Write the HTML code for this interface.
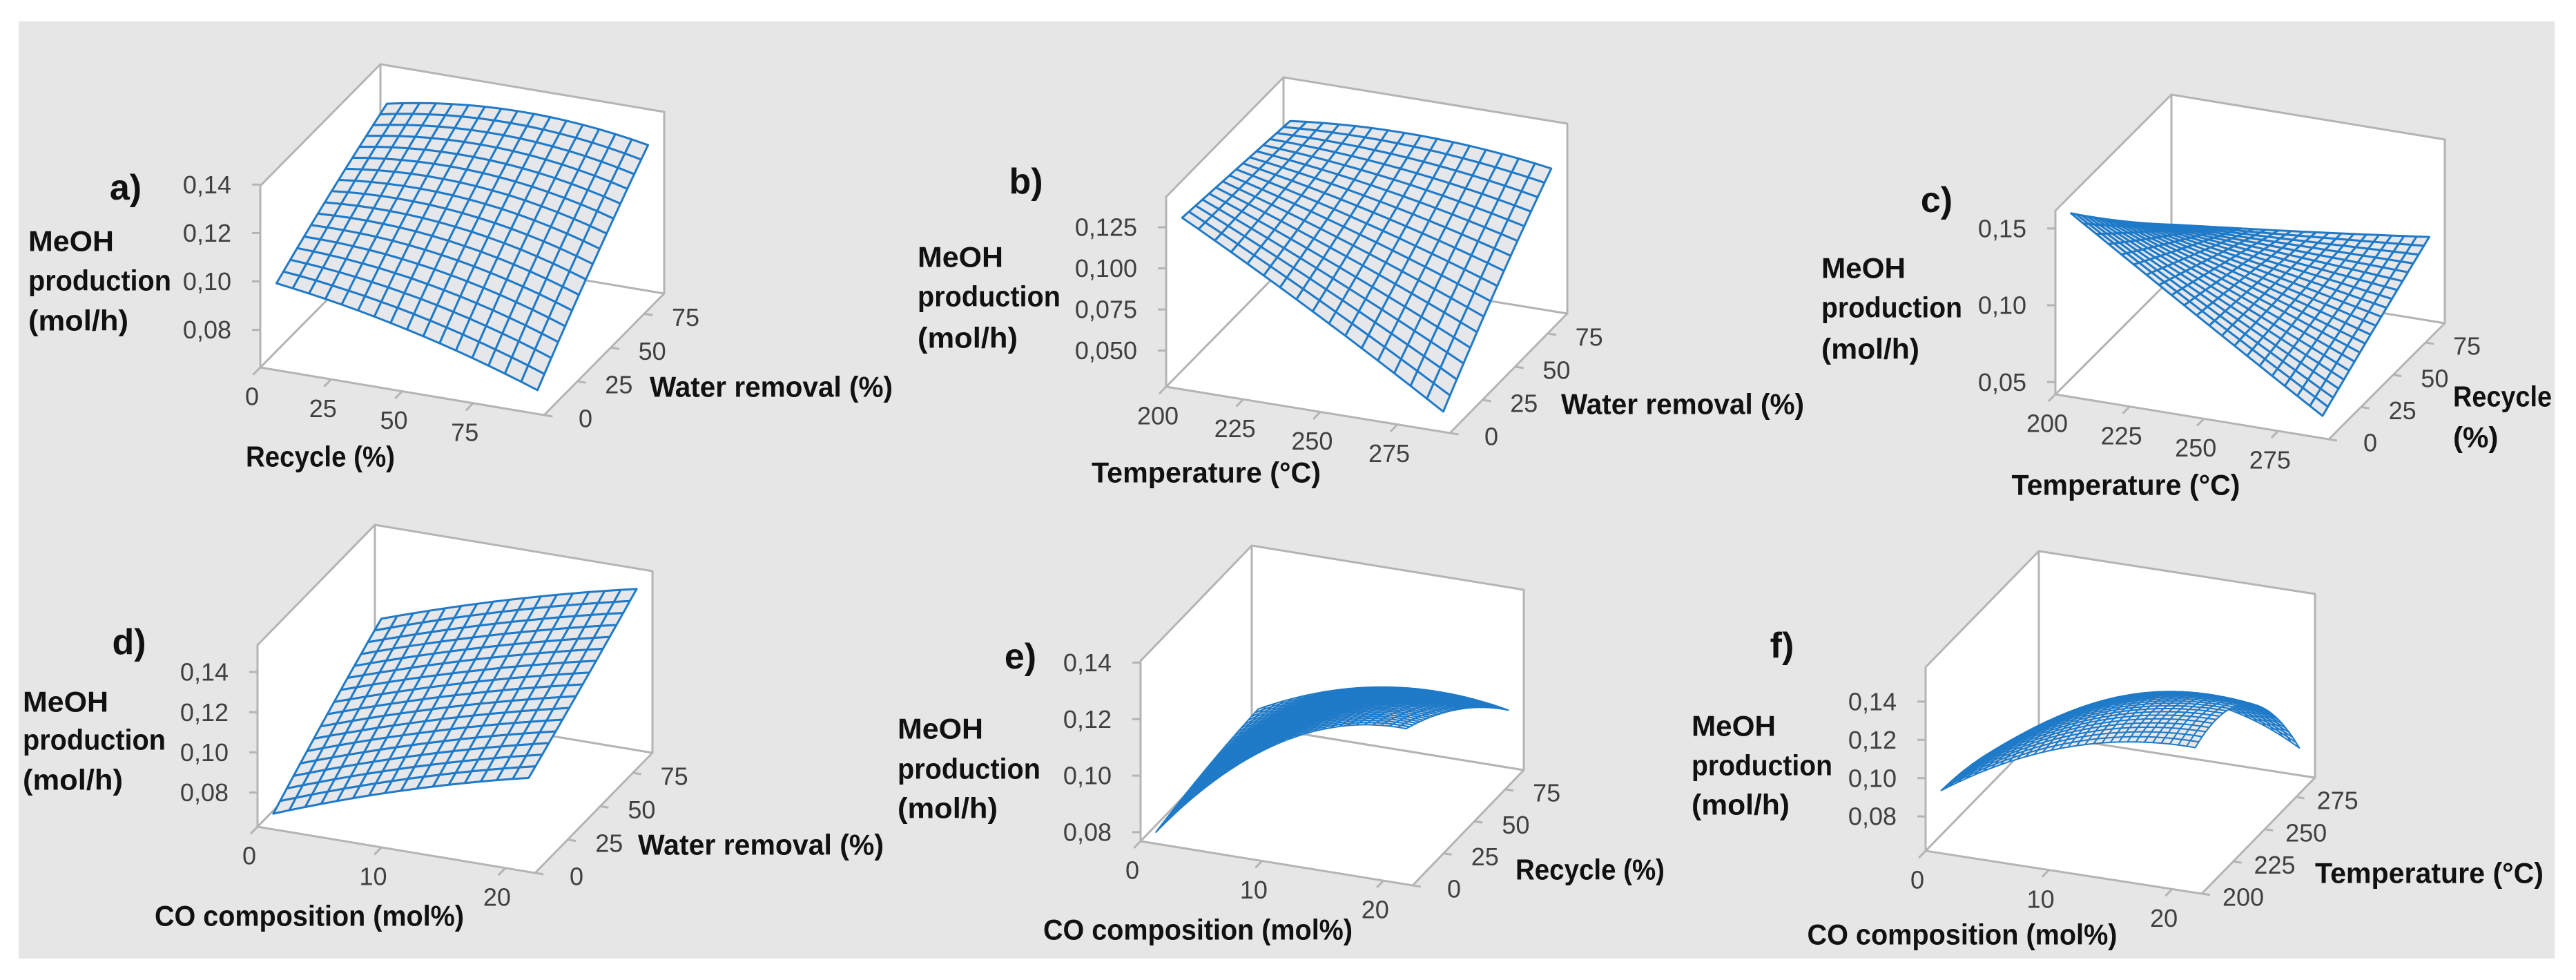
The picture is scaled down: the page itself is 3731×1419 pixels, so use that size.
<!DOCTYPE html>
<html><head><meta charset="utf-8">
<style>
html,body{margin:0;padding:0;background:#fff;}
svg{display:block;}
text{font-family:"Liberation Sans Narrow","Liberation Sans",sans-serif;}
</style></head>
<body>
<svg id="fig" xmlns="http://www.w3.org/2000/svg" width="3731" height="1419" viewBox="0 0 3731 1419">
<rect x="0" y="0" width="3731" height="1419" fill="#ffffff"/>
<rect x="27" y="31" width="3673" height="1357" fill="#e6e6e6"/>
</svg>
<script>
// ---- Data (MeOH production, mol/h); 3x3 nodes per surface ----
// Panel a: rows = water removal (0, mid, max); cols = recycle (0, mid, max)
const A_water0   = [0.098, 0.088, 0.072];
const A_waterMid = [0.113, 0.113, 0.101];
const A_waterMax = [0.126, 0.132, 0.127];
// Panel b: rows = water removal; cols = temperature
const B_water0   = [0.129, 0.085, 0.037];
const B_waterMid = [0.125, 0.105, 0.080];
const B_waterMax = [0.121, 0.125, 0.118];
// Panel c: rows = recycle; cols = temperature
const C_recycle0   = [0.158, 0.105, 0.053];
const C_recycleMid = [0.118, 0.098, 0.077];
const C_recycleMax = [0.081, 0.090, 0.100];
// Panel d: rows = water removal; cols = CO composition
const D_water0   = [0.068, 0.090, 0.107];
const D_waterMid = [0.090, 0.110, 0.126];
const D_waterMax = [0.110, 0.130, 0.146];
// Panel e: rows = recycle; cols = CO composition
const E_recycle0   = [0.079, 0.118, 0.130];
const E_recycleMid = [0.083, 0.112, 0.118];
const E_recycleMax = [0.085, 0.100, 0.099];
// Panel f: rows = temperature; cols = CO composition
const F_temp200 = [0.092, 0.125, 0.135];
const F_tempMid = [0.085, 0.122, 0.130];
const F_tempMax = [0.067, 0.095, 0.079];

// Tick labels
const zTicks2 = [0.08, 0.10, 0.12, 0.14];
const zTicksB = [0.050, 0.075, 0.100, 0.125];
const zTicksC = [0.05, 0.10, 0.15];
const pctTicks = [0, 25, 50, 75];
const tempTicks = [200, 225, 250, 275];
const coTicks = [0, 10, 20];

const NS = 'http://www.w3.org/2000/svg';
const svg = document.getElementById('fig');

function mk(tag, attrs, parent) {
  const e = document.createElementNS(NS, tag);
  for (const k in attrs) e.setAttribute(k, attrs[k]);
  (parent || svg).appendChild(e);
  return e;
}

const panels = [
  {id:'a', O:[377,532], ex:[411,69], ey:[174,-176], h:263, zr:[0.0645,0.1395],
   xr:[0,100], yr:[0,90], zt:zTicks2, zd:2, xt:pctTicks, yt:pctTicks,
   rows:[A_water0,A_waterMid,A_waterMax], n:16,
   letter:[182,271], ttlX:41, ttlY:[349,406,464], ttlW:[124,207,145],
   xTitle:'Recycle (%)', xT:[464,661], xW:216, yTitle:['Water removal (%)'], yT:[941,560], yW:352},
  {id:'b', O:[1689,560], ex:[411,67], ey:[170,-173], h:275, zr:[0.028,0.1435],
   xr:[200,292], yr:[0,90], zt:zTicksB, zd:3, xt:tempTicks, yt:pctTicks,
   rows:[B_water0,B_waterMid,B_waterMax], n:16,
   letter:[1486,262], ttlX:1329, ttlY:[372,429,489], ttlW:[124,207,145],
   xTitle:'Temperature (°C)', xT:[1747,684], xW:332, yTitle:['Water removal (%)'], yT:[2261,585], yW:352},
  {id:'c', O:[2977,571], ex:[396,65], ey:[168,-168], h:266, zr:[0.042,0.1616],
   xr:[200,292], yr:[0,90], zt:zTicksC, zd:2, xt:tempTicks, yt:pctTicks,
   rows:[C_recycle0,C_recycleMid,C_recycleMax], n:20,
   letter:[2805,289], ttlX:2638, ttlY:[388,445,505], ttlW:[122,204,142],
   xTitle:'Temperature (°C)', xT:[3079,702], xW:331, yTitle:['Recycle','(%)'], yT:[3553,574], yW:143},
  {id:'d', O:[373,1197], ex:[402,67], ey:[170,-174], h:263, zr:[0.063,0.1534],
   xr:[0,22.4], yr:[0,90], zt:zTicks2, zd:2, xt:coTicks, yt:pctTicks,
   rows:[D_water0,D_waterMid,D_waterMax], n:16,
   letter:[187,929], ttlX:33, ttlY:[1016,1071,1129], ttlW:[124,207,145],
   xTitle:'CO composition (mol%)', xT:[448,1326], xW:448, yTitle:['Water removal (%)'], yT:[924,1223], yW:356},
  {id:'e', O:[1652,1218], ex:[394,64], ey:[161,-167], h:261, zr:[0.0768,0.1406],
   xr:[0,22.4], yr:[0,90], zt:zTicks2, zd:2, xt:coTicks, yt:pctTicks,
   rows:[E_recycle0,E_recycleMid,E_recycleMax], n:30,
   letter:[1478,950], ttlX:1300, ttlY:[1055,1113,1170], ttlW:[124,207,145],
   xTitle:'CO composition (mol%)', xT:[1735,1346], xW:448, yTitle:['Recycle (%)'], yT:[2195,1259], yW:216},
  {id:'f', O:[2789,1232], ex:[400,62], ey:[164,-168], h:266, zr:[0.062,0.158],
   xr:[0,22.4], yr:[200,290], zt:zTicks2, zd:2, xt:coTicks, yt:tempTicks,
   rows:[F_temp200,F_tempMid,F_tempMax], n:30,
   letter:[2581,934], ttlX:2450, ttlY:[1051,1108,1165], ttlW:[122,204,142],
   xTitle:'CO composition (mol%)', xT:[2842,1353], xW:449, yTitle:['Temperature (°C)'], yT:[3353,1264], yW:331}
];

function lag(t){ return [2*(t-0.5)*(t-1), -4*t*(t-1), 2*t*(t-0.5)]; }
function surfZ(rows, s, t){ // s along x (cols), t along y (rows)
  const ws = lag(s), wt = lag(t); let z = 0;
  for (let r=0;r<3;r++) for (let c=0;c<3;c++) z += wt[r]*ws[c]*rows[r][c];
  return z;
}
function fmt(v,d){ return v.toFixed(d).replace('.',','); }

panels.forEach(P => {
  const g = mk('g', {});
  
  
  const proj = (u,v,w) => [P.O[0]+P.ex[0]*u+P.ey[0]*v, P.O[1]+P.ex[1]*u+P.ey[1]*v - P.h*w];
  const zw = z => (z - P.zr[0])/(P.zr[1]-P.zr[0]);
  const pts = a => a.map(p => p[0].toFixed(1)+','+p[1].toFixed(1)).join(' ');
  const wallStyle = {fill:'#ffffff', stroke:'#b4b4b4', 'stroke-width':3, 'stroke-linejoin':'round'};

  const floor = mk('polygon', Object.assign({points: pts([proj(0,0,0),proj(1,0,0),proj(1,1,0),proj(0,1,0)])}, wallStyle), g);
  
  
  const lw = mk('polygon', Object.assign({points: pts([proj(0,0,0),proj(0,1,0),proj(0,1,1),proj(0,0,1)])}, wallStyle), g);
  
  
  const bw = mk('polygon', Object.assign({points: pts([proj(0,1,0),proj(1,1,0),proj(1,1,1),proj(0,1,1)])}, wallStyle), g);
  
  

  // z ticks
  P.zt.forEach(z => {
    const p = proj(0,0,zw(z));
    const tk = mk('line', {x1:p[0]-12, y1:p[1], x2:p[0], y2:p[1], stroke:'#b4b4b4', 'stroke-width':3}, g);
    
    
    const t = mk('text', {x:P.O[0]-42, y:p[1], dy:'0.35em', 'text-anchor':'end', 'font-size':36, fill:'#404040'}, g);
    
    
    t.textContent = fmt(z, P.zd);
  });
  // x ticks
  P.xt.forEach(x => {
    const u = (x - P.xr[0])/(P.xr[1]-P.xr[0]);
    const p = proj(u,0,0);
    const tk = mk('line', {x1:p[0], y1:p[1], x2:p[0]-P.ey[0]*0.06, y2:p[1]-P.ey[1]*0.06, stroke:'#b4b4b4', 'stroke-width':3}, g);
    
    
    const t = mk('text', {x:p[0]-12, y:p[1]+42, dy:'0.35em', 'text-anchor':'middle', 'font-size':36, fill:'#404040'}, g);
    
    
    t.textContent = String(x);
  });
  // y ticks
  P.yt.forEach(y => {
    const v = (y - P.yr[0])/(P.yr[1]-P.yr[0]);
    const p = proj(1,v,0);
    const tk = mk('line', {x1:p[0], y1:p[1], x2:p[0]+P.ex[0]*0.03, y2:p[1]+P.ex[1]*0.03, stroke:'#b4b4b4', 'stroke-width':3}, g);
    
    
    const t = mk('text', {x:p[0]+60, y:p[1]+5, dy:'0.35em', 'text-anchor':'middle', 'font-size':36, fill:'#404040'}, g);
    
    
    t.textContent = String(y);
  });

  // surface mesh
  const sg = mk('g', {}, g);
  
  
  const n = P.n, lo = 0.04, hi = 0.96;
  const grid = [];
  for (let j=0;j<=n;j++){ grid.push([]); for (let i=0;i<=n;i++){
    const s=i/n, t=j/n;
    const z = surfZ(P.rows, s, t);
    grid[j].push(proj(lo+(hi-lo)*s, lo+(hi-lo)*t, zw(z)));
  }}
  const cells = [];
  for (let j=0;j<n;j++) for (let i=0;i<n;i++) cells.push([i,j]);
  cells.sort((a,b) => (b[1]-b[0]) - (a[1]-a[0]));
  const sw = n > 20 ? 2 : 3;
  cells.forEach(([i,j]) => {
    const c = mk('polygon', {points: pts([grid[j][i],grid[j][i+1],grid[j+1][i+1],grid[j+1][i]]),
      fill:'#e6e7ea', stroke:'#1f7ac8', 'stroke-width':sw, 'stroke-linejoin':'round'}, sg);
    
    
  });

  // panel letter
  const L = mk('text', {x:P.letter[0], y:P.letter[1], dy:'0.35em', 'text-anchor':'middle', 'font-size':52, 'font-weight':'bold', fill:'#111'}, g);
  
  
  L.textContent = P.id + ')';
  // z title
  ['MeOH','production','(mol/h)'].forEach((s,k) => {
    const t = mk('text', {x:P.ttlX, y:P.ttlY[k], dy:'0.35em', 'font-size':42, 'font-weight':'bold', fill:'#111',
      textLength:P.ttlW[k], lengthAdjust:'spacingAndGlyphs'}, g);
    
    
    t.textContent = s;
  });
  // x title
  const xt = mk('text', {x:P.xT[0]-P.xW/2, y:P.xT[1], dy:'0.35em', 'font-size':42, 'font-weight':'bold', fill:'#111',
    textLength:P.xW, lengthAdjust:'spacingAndGlyphs'}, g);
  
  
  xt.textContent = P.xTitle;
  // y title
  P.yTitle.forEach((s,k) => {
    const a = {x:P.yT[0], y:P.yT[1]+k*59, dy:'0.35em', 'font-size':42, 'font-weight':'bold', fill:'#111'};
    if (k===0) { a.textLength = P.yW; a.lengthAdjust = 'spacingAndGlyphs'; }
    const t = mk('text', a, g);
    
    
    t.textContent = s;
  });
});
</script>
</body></html>
